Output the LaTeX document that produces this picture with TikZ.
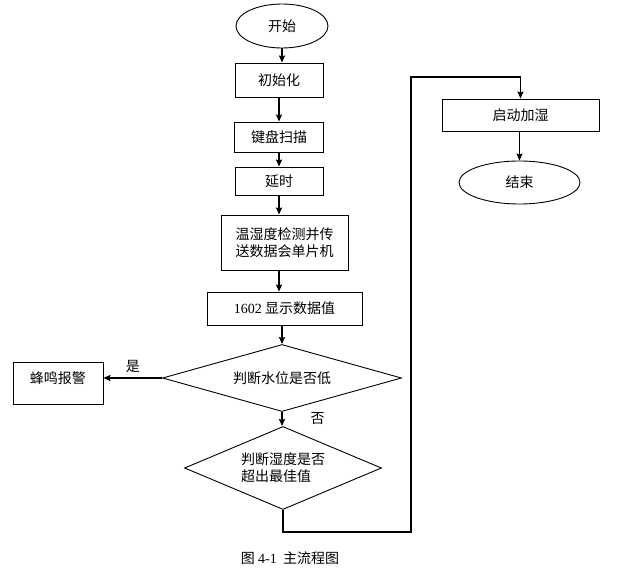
\documentclass[tikz,border=0pt]{standalone}
\usepackage{fontspec}
\setmainfont{Liberation Serif}
\newfontfamily\cjk{Noto Sans CJK SC}
\usetikzlibrary{arrows.meta,positioning,shapes.geometric}

\begin{document}
\begin{tikzpicture}[x=1pt, y=-1pt, >={Stealth[length=7pt,width=6pt,inset=1pt]},
  every node/.style={font=\cjk\fontsize{14}{17}\selectfont, inner sep=1pt},
  box/.style={draw, line width=0.9pt},
  term/.style={draw, ellipse, line width=0.9pt},
  test/.style={draw, diamond, line width=0.9pt, inner sep=0pt},
  flow/.style={->, line width=1.3pt}]
  \useasboundingbox (0,0) rectangle (633,569);
  % main column
  \node[term, minimum width=92pt, minimum height=44pt] (start) at (282,26) {开始};
  \node[box, minimum width=88pt, minimum height=34pt] (init) at (279,80) {初始化};
  \node[box, minimum width=89pt, minimum height=30pt] (scan) at (279,137) {键盘扫描};
  \node[box, minimum width=88pt, minimum height=28pt] (delay) at (279,181) {延时};
  \node[box, minimum width=127pt, minimum height=55pt, align=center] (sense) at (284.5,242.5) {温湿度检测并传\\送数据会单片机};
  \node[box, minimum width=155pt, minimum height=33pt] (show) at (284.5,308.5) {{\rmfamily 1602} 显示数据值};
  \node[test, aspect=3.6, minimum width=239pt, minimum height=67pt] (water) at (282,378) {判断水位是否低};
  \node[test, aspect=2.4, minimum width=197pt, minimum height=83pt, align=left] (optimum) at (283,468) {判断湿度是否\\超出最佳值};
  \node[box, minimum width=90pt, minimum height=42pt, text depth=10pt, text height=12pt] (alarm) at (58,383) {蜂鸣报警};
  % right column
  \node[box, minimum width=157pt, minimum height=32pt] (humid) at (520.5,115) {启动加湿};
  \node[term, minimum width=121pt, minimum height=43pt] (stop) at (519.5,182.5) {结束};
  \coordinate (loopr) at (411,532);
  \coordinate (loopt) at (411,77);
  % connectors
  \draw[flow] (start.south) -- (start.south |- init.north);
  \draw[flow] (init.south) -- (init.south |- scan.north);
  \draw[flow] (scan.south) -- (scan.south |- delay.north);
  \draw[flow] (delay.south) -- (delay.south |- sense.north);
  \draw[flow] (sense.south -| delay.south) -- (delay.south |- show.north);
  \draw[flow] (show.south -| water.north) -- (water.north);
  \draw[flow] (water.west) -- (water.west -| alarm.east) node[pos=0.5, above=4pt] {是};
  \draw[flow] (water.south) -- (water.south |- optimum.north) node[pos=0.5, right=27pt] {否};
  \draw[flow] (optimum.south) |- (loopr) -- (loopt) -| (humid.north);
  \draw[flow] (humid.south -| stop.north) -- (stop.north);
  % caption
  \node (cap) at (290,558) {图\ {\rmfamily 4-1}\ \ 主流程图};
\end{tikzpicture}
\end{document}
